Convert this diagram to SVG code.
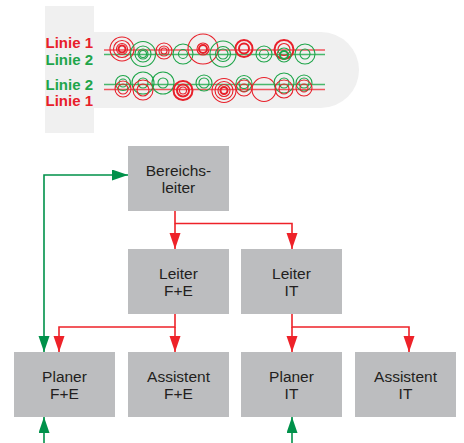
<svg xmlns="http://www.w3.org/2000/svg" width="464" height="443" viewBox="0 0 464 443">
<defs>
<style>
.box{fill:#bcbdbf}
.lbl{font-family:"Liberation Sans",Arial,sans-serif;font-size:15.5px;fill:#231f20;text-anchor:middle}
.ln{font-family:"Liberation Sans",Arial,sans-serif;font-size:15px;font-weight:bold;text-anchor:end}
.red{fill:#e8202a}
.grn{fill:#1fa54a}
.cr{fill:none;stroke:#e8202a;stroke-width:1.1}
.cg{fill:none;stroke:#1fa54a;stroke-width:1.1}
.th{stroke-width:2}
.lr{stroke:#ee3a42;stroke-width:1.6;fill:none;opacity:0.85}
.lg{stroke:#2cae55;stroke-width:1.6;fill:none;opacity:0.85}
.cr-red{fill:none;stroke:#ee2229;stroke-width:1.6}
.cr-grn{fill:none;stroke:#00914a;stroke-width:1.6}
</style>
<marker id="ar" markerUnits="userSpaceOnUse" markerWidth="17" markerHeight="12" refX="16" refY="5.5" orient="auto-start-reverse" viewBox="0 0 17 12">
<path d="M0,0 L16,5.5 L0,11 Z" fill="#ee2229"/>
</marker>
<marker id="ag" markerUnits="userSpaceOnUse" markerWidth="17" markerHeight="12" refX="16" refY="5.5" orient="auto-start-reverse" viewBox="0 0 17 12">
<path d="M0,0 L16,5.5 L0,11 Z" fill="#00914a"/>
</marker>
</defs>

<g id="top-figure">
<rect x="45" y="6" width="49" height="127" fill="#f0f0f0"/>
<path d="M94,32 H321 A38,38 0 0 1 321,108 H94 Z" fill="#f0f0f0"/>
<text class="ln red" x="93" y="48">Linie 1</text>
<text class="ln grn" x="93" y="64.5">Linie 2</text>
<text class="ln grn" x="93" y="89.5">Linie 2</text>
<text class="ln red" x="93" y="106">Linie 1</text>
<line class="lr" x1="104" y1="50" x2="325" y2="50"/>
<line class="lg" x1="104" y1="54.5" x2="325" y2="54.5"/>
<line class="lg" x1="104" y1="84.5" x2="325" y2="84.5"/>
<line class="lr" x1="104" y1="89.5" x2="325" y2="89.5"/>
<g id="circles">
<circle class="cr" cx="122" cy="49" r="12"/><circle class="cr" cx="122" cy="49" r="8.5"/><circle class="cr" cx="122" cy="49" r="5.5"/><circle class="cr th" cx="122" cy="49" r="3.5"/>
<circle class="cg" cx="143" cy="54" r="12.5"/><circle class="cg" cx="143" cy="54" r="8"/><circle class="cg" cx="143" cy="54" r="5"/><circle class="cg" cx="143" cy="54" r="3.5"/>
<circle class="cr" cx="164" cy="51" r="8"/><circle class="cr" cx="164" cy="51" r="5"/><circle class="cr" cx="164" cy="51" r="3"/>
<circle class="cg" cx="183" cy="54" r="10"/><circle class="cg" cx="183" cy="54" r="4.5"/>
<circle class="cr" cx="203" cy="49" r="15"/><circle class="cr" cx="203" cy="49" r="6"/><circle class="cr th" cx="203" cy="49" r="4"/>
<circle class="cg" cx="223" cy="54" r="13"/><circle class="cg" cx="223" cy="54" r="7.5"/><circle class="cg" cx="223" cy="54" r="5"/>
<circle class="cr th" cx="244" cy="48.5" r="8.5"/><circle class="cr th" cx="244" cy="48.5" r="5"/>
<circle class="cg" cx="264" cy="54" r="8"/><circle class="cg" cx="264" cy="54" r="4.5"/>
<circle class="cr th" cx="284" cy="49.5" r="9.5"/><circle class="cr" cx="284" cy="49.5" r="6"/>
<circle class="cg" cx="284" cy="55" r="7"/><circle class="cg th" cx="284" cy="55" r="4"/>
<circle class="cg" cx="305" cy="54" r="10"/><circle class="cg" cx="305" cy="54" r="5"/>

<circle class="cg" cx="123" cy="83" r="7.5"/><circle class="cg" cx="123" cy="83" r="4"/>
<circle class="cr" cx="123" cy="89" r="8"/><circle class="cr" cx="123" cy="89" r="5"/>
<circle class="cg" cx="143" cy="83" r="11"/><circle class="cg" cx="143" cy="83" r="5"/>
<circle class="cr" cx="143" cy="90" r="10"/><circle class="cr" cx="143" cy="90" r="6"/>
<circle class="cg" cx="163" cy="83" r="11"/><circle class="cg" cx="163" cy="83" r="5"/>
<circle class="cr th" cx="183" cy="90.5" r="9.5"/><circle class="cr th" cx="183" cy="90.5" r="6"/><circle class="cr" cx="183" cy="90.5" r="3.5"/>
<circle class="cg" cx="204" cy="83" r="8"/><circle class="cg" cx="204" cy="83" r="5"/>
<circle class="cr" cx="224" cy="90.5" r="12"/><circle class="cr" cx="224" cy="90.5" r="9"/><circle class="cr" cx="224" cy="90.5" r="6"/><circle class="cr th" cx="224" cy="90.5" r="3.5"/>
<circle class="cg" cx="244" cy="83.5" r="8"/><circle class="cg" cx="244" cy="83.5" r="5"/>
<circle class="cr" cx="244" cy="88" r="8"/><circle class="cr" cx="244" cy="88" r="4"/>
<circle class="cr" cx="264" cy="89.5" r="12"/>
<circle class="cg" cx="284" cy="83" r="10"/><circle class="cg" cx="284" cy="83" r="5"/>
<circle class="cr" cx="284" cy="89" r="9"/><circle class="cr" cx="284" cy="89" r="5"/>
<circle class="cg" cx="304" cy="83" r="8"/><circle class="cg" cx="304" cy="83" r="5"/>
<circle class="cr" cx="304" cy="88" r="8"/><circle class="cr" cx="304" cy="88" r="4"/>
</g>
</g>

<g id="connectors">
<path class="cr-red" d="M175,211 V223.5 H292 V249" marker-end="url(#ar)"/>
<path class="cr-red" d="M175,223.5 V249" marker-end="url(#ar)"/>
<path class="cr-red" d="M175,314 V327 H59 V352" marker-end="url(#ar)"/>
<path class="cr-red" d="M175,327 V352" marker-end="url(#ar)"/>
<path class="cr-red" d="M292,314 V327 H409 V352" marker-end="url(#ar)"/>
<path class="cr-red" d="M292,327 V352" marker-end="url(#ar)"/>
<path class="cr-grn" d="M44,352 V175 H128" marker-start="url(#ag)" marker-end="url(#ag)"/>
<path class="cr-grn" d="M44,443 V417" marker-end="url(#ag)"/>
<path class="cr-grn" d="M292,443 V417" marker-end="url(#ag)"/>
</g>

<g id="bereichsleiter">
<rect class="box" x="128" y="146" width="101" height="65"/>
<text class="lbl" x="178.5" y="176">Bereichs-</text>
<text class="lbl" x="178.5" y="193">leiter</text>
</g>
<g id="leiter-fe">
<rect class="box" x="128" y="249" width="101" height="65"/>
<text class="lbl" x="178.5" y="279">Leiter</text>
<text class="lbl" x="178.5" y="296">F+E</text>
</g>
<g id="leiter-it">
<rect class="box" x="241" y="249" width="101" height="65"/>
<text class="lbl" x="291.5" y="279">Leiter</text>
<text class="lbl" x="291.5" y="296">IT</text>
</g>
<g id="planer-fe">
<rect class="box" x="14" y="352" width="101" height="65"/>
<text class="lbl" x="64.5" y="382">Planer</text>
<text class="lbl" x="64.5" y="399">F+E</text>
</g>
<g id="assistent-fe">
<rect class="box" x="128" y="352" width="101" height="65"/>
<text class="lbl" x="178.5" y="382">Assistent</text>
<text class="lbl" x="178.5" y="399">F+E</text>
</g>
<g id="planer-it">
<rect class="box" x="241" y="352" width="101" height="65"/>
<text class="lbl" x="291.5" y="382">Planer</text>
<text class="lbl" x="291.5" y="399">IT</text>
</g>
<g id="assistent-it">
<rect class="box" x="355" y="352" width="101" height="65"/>
<text class="lbl" x="405.5" y="382">Assistent</text>
<text class="lbl" x="405.5" y="399">IT</text>
</g>
</svg>
